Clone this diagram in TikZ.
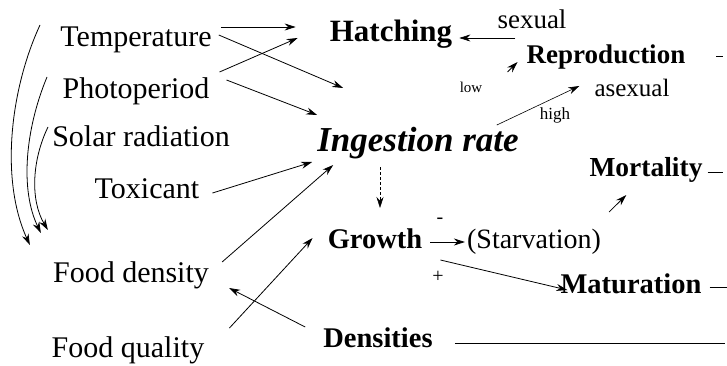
\documentclass[tikz,border=0pt]{standalone}
\usepackage{fontspec}
\setmainfont{Liberation Serif}
\usetikzlibrary{arrows.meta,positioning}

\tikzset{
  factor/.style={inner sep=0pt, anchor=base, font=\fontsize{30}{33}\selectfont},
  proc/.style={inner sep=0pt, anchor=base, font=\bfseries\fontsize{28.5}{32}\selectfont},
  tag/.style={inner sep=0pt, anchor=base, font=\fontsize{27}{30}\selectfont},
  arr/.style={-{Stealth[length=11pt,width=7pt]}, line width=0.8pt},
  tail/.style={line width=0.8pt}
}

\begin{document}
\begin{tikzpicture}[x=1pt, y=1pt]
    \useasboundingbox (0,0) rectangle (727,-366);

    % Environmental factors
    \node[factor] (temp)  at (136,-47)  {Temperature};
    \node[factor] (photo) at (136,-99)  {Photoperiod};
    \node[factor] (solar) at (141,-147) {Solar radiation};
    \node[factor] (toxic) at (147,-198) {Toxicant};
    \node[factor] (fdens) at (131,-282) {Food density};
    \node[factor] (fqual) at (128,-357) {Food quality};

    % Processes
    \node[proc, font=\bfseries\fontsize{31}{34}\selectfont] (hatch) at (391,-42) {Hatching};
    \node[tag] (sexual) at (532,-29) {sexual};
    \node[proc, font=\bfseries\fontsize{27}{30}\selectfont] (repro) at (606,-64) {Reproduction};
    \node[tag, font=\fontsize{25}{28}\selectfont] (asexual) at (632,-97) {asexual};
    \node[tag, font=\fontsize{15}{18}\selectfont] (low)  at (471,-93)  {low};
    \node[tag, font=\fontsize{17}{20}\selectfont] (high) at (555,-120) {high};
    \node[proc, font=\bfseries\itshape\fontsize{35}{40}\selectfont] (ingest) at (418,-152) {Ingestion rate};
    \node[proc, font=\bfseries\fontsize{27.5}{30}\selectfont] (mort) at (646,-176) {Mortality};
    \node[proc] (growth) at (375,-248) {Growth};
    \node[tag, font=\fontsize{28}{32}\selectfont] (starv) at (534,-248) {(Starvation)};
    \node[tag, anchor=center, font=\fontsize{20}{22}\selectfont] (minus) at (440,-221) {-};
    \node[tag, anchor=center, font=\fontsize{20}{22}\selectfont] (plus)  at (438,-277) {+};
    \node[proc] (matur) at (631,-293) {Maturation};
    \node[proc] (dens)  at (378,-347) {Densities};

    % loose ends
    \coordinate (c1) at (40,-25);
    \coordinate (c2) at (47,-77);
    \coordinate (c3) at (48,-127);
    \coordinate (reproout) at (723,-56);
    \coordinate (mortout)  at (723,-172);
    \coordinate (maturout) at (727,-287);
    \coordinate (densout)  at (725,-343);

    % Arrows from the factors
    \draw[arr] ([shift={(9,20)}]temp.base east) -- ([shift={(-34,15)}]hatch.base west);
    \draw[arr] ([shift={(10,27)}]photo.base east) -- ([shift={(-32,4)}]hatch.base west);
    \draw[arr] ([shift={(7,12)}]temp.base east) -- ([shift={(26,64)}]ingest.base west);
    \draw[arr] ([shift={(17,19)}]photo.base east) -- ([shift={(0,37)}]ingest.base west);
    \draw[arr] ([shift={(13,5)}]toxic.base east) -- ([shift={(-5,-10)}]ingest.base west);
    \draw[arr] ([shift={(13,20)}]fdens.base east) -- ([shift={(16,-13)}]ingest.base west);
    \draw[arr] ([shift={(25,29)}]fqual.base east) -- ([shift={(-15,10)}]growth.base west);
    \draw[arr] ([shift={(-18,20)}]dens.base west) -- ([shift={(20,-6)}]fdens.base east);

    % Curves down to food density
    \draw[arr] (c1) .. controls (10,-90) and (0,-180) .. ([shift={(-23,37)}]fdens.base west);
    \draw[arr] (c2) .. controls (25,-130) and (20,-190) .. ([shift={(-12,49)}]fdens.base west);
    \draw[arr] (c3) .. controls (32,-160) and (30,-200) .. ([shift={(-5,52)}]fdens.base west);

    % Ingestion rate outputs
    \draw[arr, densely dashed, line width=0.5pt] ([shift={(-38,-15)}]ingest.base) -- ([shift={(5,40)}]growth.base);
    \draw[arr, line width=0.6pt] ([shift={(-22,27)}]ingest.base east) -- ([shift={(-15,11)}]asexual.base west);
    \draw[arr] ([shift={(-19,-8)}]repro.base west) -- ([shift={(-9,2)}]repro.base west);
    \draw[arr, line width=0.6pt] ([shift={(18,-9)}]sexual.base west) -- ([shift={(7,4)}]hatch.base east);

    % Growth outputs
    \draw[arr] ([shift={(8,6)}]growth.base east) -- ([shift={(-2,6)}]starv.base west);
    \draw[arr] ([shift={(18,-12)}]growth.base east) -- ([shift={(7,3)}]matur.base west);
    \draw[arr] ([shift={(8,36)}]starv.base east) -- ([shift={(37,-19)}]mort.base west);

    % Lines leaving to the right
    \draw[tail] ([shift={(31,8)}]repro.base east) -- (reproout);
    \draw[tail] ([shift={(5,4)}]mort.base east) -- (mortout);
    \draw[tail] ([shift={(8,6)}]matur.base east) -- (maturout);
    \draw[tail] ([shift={(22,4)}]dens.base east) -- (densout);
\end{tikzpicture}
\end{document}
